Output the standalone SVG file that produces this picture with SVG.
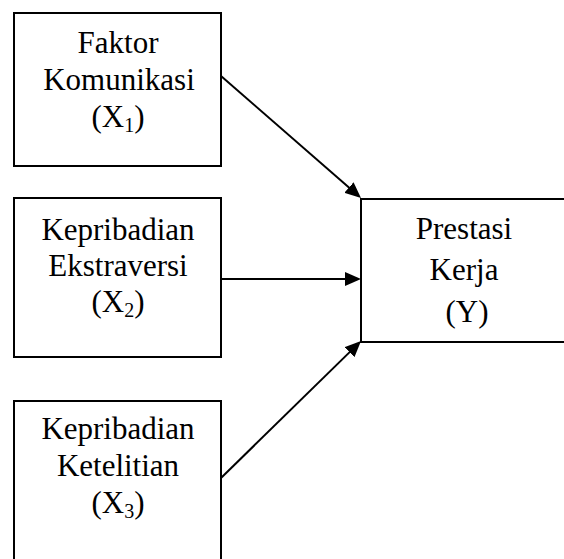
<svg xmlns="http://www.w3.org/2000/svg" width="564" height="559" viewBox="0 0 564 559">
  <style>
    .box { fill: #ffffff; stroke: #000000; stroke-width: 2; }
    .lbl { font-family: 'Liberation Serif', 'Times New Roman', Times, serif; font-size: 31px; fill: #000000; text-anchor: middle; }
    .sub { font-size: 20px; }
    .conn { stroke: #000000; stroke-width: 2; fill: none; }
  </style>
  <defs>
    <marker id="arrow" viewBox="0 0 16 14" refX="8" refY="7" markerWidth="16" markerHeight="14" markerUnits="userSpaceOnUse" orient="auto">
      <path d="M0,0 L16,7 L0,14 z" fill="#000000"/>
    </marker>
  </defs>
  <rect x="0" y="0" width="564" height="559" fill="#ffffff"/>

  <g id="node-x1" font-family="Liberation Serif, serif">
    <rect class="box" x="14" y="13" width="207" height="153"/>
    <text class="lbl" x="118" y="53">Faktor</text>
    <text class="lbl" x="119" y="90">Komunikasi</text>
    <text class="lbl" x="118" y="127">(X<tspan class="sub" dy="5">1</tspan><tspan dy="-5">)</tspan></text>
  </g>

  <g id="node-x2" font-family="Liberation Serif, serif">
    <rect class="box" x="14" y="198" width="207" height="159"/>
    <text class="lbl" x="118" y="240">Kepribadian</text>
    <text class="lbl" x="118" y="276">Ekstraversi</text>
    <text class="lbl" x="118" y="312">(X<tspan class="sub" dy="5">2</tspan><tspan dy="-5">)</tspan></text>
  </g>

  <g id="node-x3" font-family="Liberation Serif, serif">
    <rect class="box" x="14" y="401" width="207" height="175"/>
    <text class="lbl" x="118" y="439">Kepribadian</text>
    <text class="lbl" x="118" y="476">Ketelitian</text>
    <text class="lbl" x="118" y="513">(X<tspan class="sub" dy="5">3</tspan><tspan dy="-5">)</tspan></text>
  </g>

  <g id="node-y" font-family="Liberation Serif, serif">
    <path class="box" d="M570,199 H361 V342 H570"/>
    <text class="lbl" x="464" y="239">Prestasi</text>
    <text class="lbl" x="464" y="280">Kerja</text>
    <text class="lbl" x="467" y="322">(Y)</text>
  </g>

  <g id="connectors">
    <line class="conn" x1="221" y1="76" x2="354.97" y2="192.74" marker-end="url(#arrow)"/>
    <line class="conn" x1="221" y1="279" x2="353" y2="279" marker-end="url(#arrow)"/>
    <line class="conn" x1="221" y1="478" x2="355.28" y2="346.59" marker-end="url(#arrow)"/>
  </g>
</svg>
